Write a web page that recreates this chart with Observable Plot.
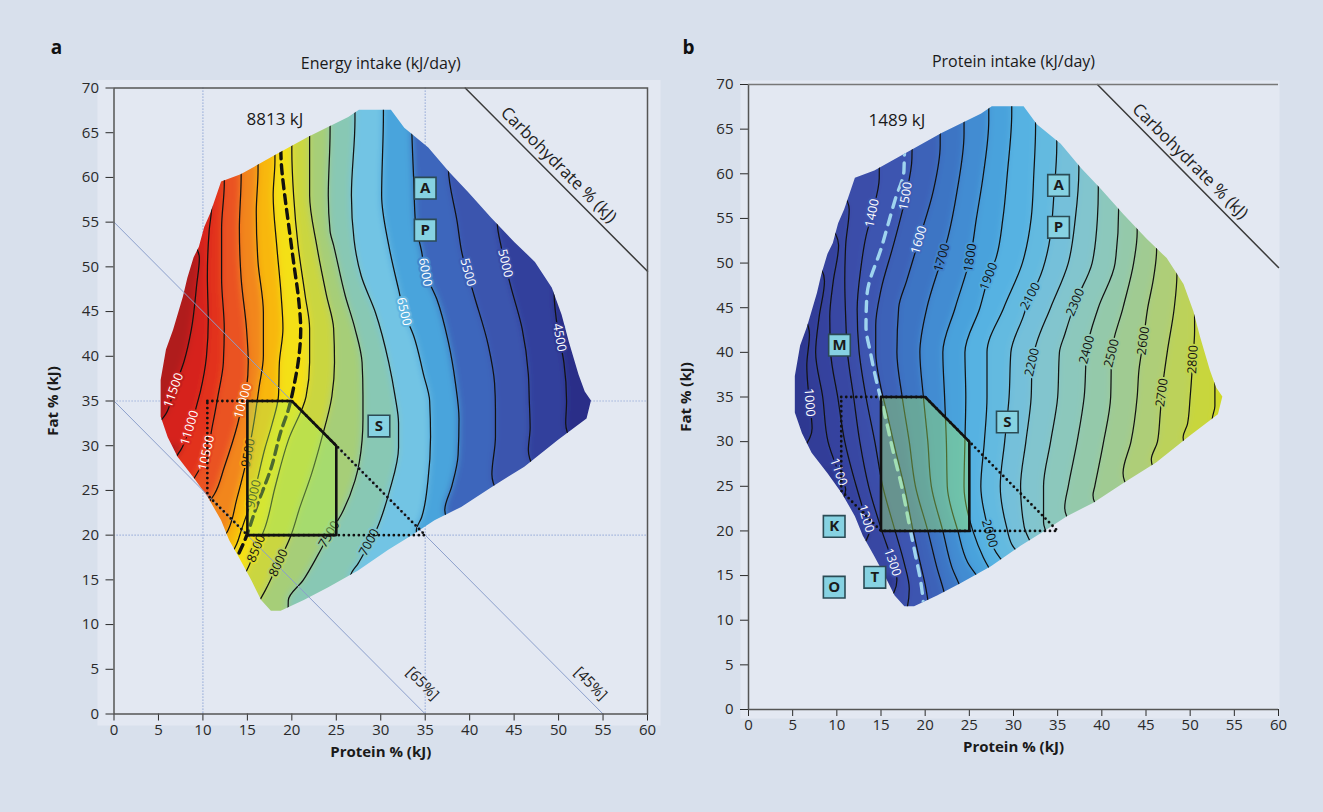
<!DOCTYPE html>
<html>
<head>
<meta charset="utf-8">
<script src="https://cdn.jsdelivr.net/npm/d3@7"></script>
<script src="https://cdn.jsdelivr.net/npm/@observablehq/plot@0.6"></script>
<style>
html,body{margin:0;padding:0;background:#d8e0ec;}
#chart{position:relative;width:1323px;height:812px;overflow:hidden;background:#d8e0ec;}
#chart svg{position:absolute;top:0;}
</style>
</head>
<body>
<div id="chart"></div>
<script>
// ---------------- data ----------------
const proteinTicks = [0,5,10,15,20,25,30,35,40,45,50,55,60];
const fatTicks = [0,5,10,15,20,25,30,35,40,45,50,55,60,65,70];

// outline of the explored diet region (protein %, fat %)
const regionOutline = [
 [27.6,67.5],[31.2,67.5],[32.7,65.5],[35.4,63.3],[37.7,60.6],[39.9,58.3],[42.5,55.4],[45.1,52.7],[47.4,50.5],[49.3,47.6],[50.4,44.6],[51.2,41.6],[52.3,37.9],[53.0,36.0],[53.7,35.0],
 [53.2,33.0],[50.0,30.6],[46.2,27.6],[42.5,25.3],[39.1,23.1],[36.1,21.6],[33.5,19.9],[30.9,18.3],[27.5,16.0],[24.1,14.1],[21.4,12.7],[18.8,11.5],[17.7,11.5],
 [16.6,12.7],[15.5,14.9],[14.3,17.1],[13.0,19.4],[12.1,21.6],[10.6,24.2],[9.0,26.4],[7.2,28.7],[6.1,30.9],[5.3,33.2],[5.3,37.3],[5.9,40.7],[6.7,42.9],[7.8,46.6],[8.3,48.7],[9.0,51.0],[9.6,52.2],[10.2,54.4],[10.9,56.0],[12.1,59.5],[14.3,60.3],[17.9,62.3],[21.9,64.5],[26.4,66.7]
];
const targetZone = [[15,35],[20,35],[25,30],[25,20],[15,20],[15,35]];
const dietBounds = [[10.5,35],[20,35],[35,20],[15,20],[10.5,24.5],[10.5,35]];
const gridX = [10, 35];
const gridY = [20, 35];
const carbLines = [65, 45];
const carbLabelPos = [[34.7,3.4],[53.6,3.4]];
const carbAxis = [[39.5,70],[60,49.5]];
const carbAxisLabel = [50, 61.4];

// Panel a: energy intake contours (kJ/day), left to right
const energyLevels = [11500,11000,10500,10000,9500,9000,8500,8000,7500,7000,6500,6000,5500,5000,4500];
const energyLines = [
 [[0,58],[9.6,51],[9.3,48],[8.7,43],[7.9,39.5],[6.7,36.2],[5.8,33.5],[2,30]],
 [[0,64],[11.0,57],[10.7,54],[10.5,49],[10.6,44],[10.4,40],[9.7,36],[8.5,32],[7.5,29.5],[3,25]],
 [[12.5,72],[12.4,59.1],[12.1,54.3],[12.1,48.7],[12.4,43.1],[12.3,39.3],[11.7,35.6],[11.1,32.4],[10.4,29.2],[9.1,26.5],[5,22]],
 [[14.3,72],[14.3,60.1],[14.1,54.3],[14.3,48.7],[14.9,43.1],[15.1,39.3],[14.9,36.4],[14.5,35],[13.9,32.4],[12.4,27.6],[11.3,24.6],[7,20]],
 [[16.2,72],[16.2,60.8],[16.0,56.1],[16.2,50.5],[16.8,44.9],[16.8,40.1],[16.3,36.4],[15.8,33],[15.1,29.2],[13.8,24],[12.8,20.5],[9,16]],
 [[18.1,72],[18.1,61.9],[17.9,58],[18.3,52.4],[18.8,46.8],[19.0,43.1],[18.6,39.3],[18.5,35.6],[17.8,32.5],[17.0,29.8],[15.7,24.6],[14.3,20.5],[13.8,19],[10,14],[4,8]],
 [[20.0,72],[20.0,62.9],[20.2,58],[20.7,52.4],[21.5,46.8],[22.0,43.1],[22.0,39.3],[21.6,35.5],[19.6,30.6],[18.1,25.3],[17.0,20.9],[16.0,18.5],[15.1,16.4],[12,11],[6,5]],
 [[22.0,72],[22.0,64],[22.0,58],[22.8,52.4],[23.9,46.8],[24.7,43.1],[24.8,39.3],[24.5,35.5],[23.3,30.6],[22.2,26.8],[20.9,23.1],[19.8,19.7],[18.5,16.9],[17.0,13.8],[14,9],[10,4]],
 [[24.3,72],[24.3,65.1],[24.1,58],[24.3,54],[24.7,52.4],[26.0,46.8],[27.1,43.1],[27.9,39.3],[28.0,35.6],[28.0,33],[27.9,30.6],[27.1,26.1],[25.6,22.4],[24.2,20.1],[23.0,17.9],[21.3,15],[19.6,12.7],[19.5,4]],
 [[27.1,72],[27.1,66.4],[26.7,58],[27.0,53],[27.8,49],[29.4,44.9],[30.9,39.3],[31.6,35.6],[32.0,32.5],[32.0,29.8],[31.0,25],[29.6,20.8],[27.5,16.9],[26.6,15.4],[30,10],[34,4]],
 [[30.3,72],[30.3,67],[30.1,58],[30.9,52.4],[32.0,47.5],[32.6,45],[33.7,42.3],[34.8,38],[35.5,35],[35.6,31],[35.3,26],[34.6,22],[34.0,20.5],[38,15],[44,8]],
 [[33.4,72],[33.5,65],[33.7,59.9],[33.9,55],[34.6,51.7],[35.0,49.4],[36.3,46.4],[37.6,41.6],[38.4,37],[38.8,33],[38.7,29],[38.0,25.5],[37.2,22.8],[42,17],[48,10]],
 [[37.5,72],[37.6,61],[38.6,55],[39.1,51.7],[40.5,46.8],[42.1,41.2],[42.8,37],[42.9,34],[42.9,31],[42.5,26.8],[45,22],[52,15]],
 [[43.0,72],[43.1,55],[43.6,52],[44.6,47.9],[45.9,43.1],[46.6,38],[46.7,35.2],[46.8,32],[46.6,29.5],[49,25],[55,19]],
 [[49.4,72],[49.5,47],[49.9,43],[50.6,39.3],[50.9,35],[50.8,32.5],[54,27],[58,22]]
];
const energyTarget = [[18.7,66],[18.8,61.9],[19.2,58],[19.6,55],[20.2,50.5],[20.8,46],[21.0,43],[20.8,40],[20.3,37],[19.6,34],[18.8,31.7],[17.7,27.6],[16.0,23.1],[14.7,19.4],[13.3,16.5]];
const energyLabels = [
 [11500,6.7,36.2],[11000,8.5,32.0],[10500,10.4,29.2],[10000,14.5,35.0],[9500,15.1,29.2],[9000,15.7,24.6],
 [8500,16.0,18.5],[8000,18.5,16.9],[7500,24.2,20.1],[7000,28.7,19.2],[6500,32.6,45.0],[6000,35.0,49.4],
 [5500,39.8,49.4],[5000,44.0,50.4],[4500,50.1,42.1]
];
const energyRef = [{text: "8813 kJ", x: 18.1, y: 66.5}];
const energyMarkers = [["A",35.0,58.8],["P",35.0,54.1],["S",29.8,32.2]];

// Panel b: protein intake contours (kJ/day), left to right
const proteinLevels = [1000,1100,1200,1300,1400,1500,1600,1700,1800,1900,2000,2100,2200,2300,2400,2500,2600,2700,2800,2900];
const proteinLines = [
 [[0,50],[6.9,42],[6.6,38.5],[6.9,34.4],[7.2,31.5],[4,27]],
 [[0,56],[8.6,48],[8.0,44],[7.6,40],[8.4,35],[9.0,30],[10.2,26.6],[11.0,24.6],[7,20]],
 [[0,60],[10.2,52],[9.6,48],[9.2,44],[9.3,40],[10.1,35],[10.9,30],[12.2,25],[13.3,21.4],[13.7,20.2],[9,15]],
 [[0,64],[11.4,56],[11.0,52],[10.9,48],[11.0,44],[11.2,40],[11.9,35],[12.6,30],[13.6,25],[15.1,20],[16.3,16.5],[16.8,14.5],[13,9]],
 [[14.9,72],[14.8,59.5],[14.0,55.6],[13.3,53],[12.7,49.3],[12.3,44.8],[12.5,40.3],[13.3,35],[14.3,30],[15.2,25],[16.6,20],[17.6,16.5],[18.2,13.5],[17,8]],
 [[18.6,72],[18.5,61.7],[17.8,57.5],[16.4,52],[15.0,47],[14.4,43],[14.4,40],[15.0,36],[15.6,33.5],[16.6,29.2],[17.7,24.7],[18.6,20.2],[19.3,17],[20.0,14],[21,6]],
 [[21.7,72],[21.7,63.2],[20.9,58],[19.3,52.6],[17.9,48],[17.0,45],[16.8,40],[17.4,35],[18.2,30],[18.9,25],[20.3,20],[21.3,16],[22.3,12.5],[23,6]],
 [[24.4,72],[24.4,64.5],[23.6,58],[22.6,53],[21.9,50.6],[20.2,45],[19.4,40],[19.8,35],[20.3,30],[20.7,25],[22.0,20],[23.0,16],[24.2,13],[25,6]],
 [[27.2,72],[27.2,66],[26.6,60],[25.8,55],[25.1,50.6],[23.4,45],[22.0,40],[22.2,35],[22.4,30],[22.5,25],[23.7,20],[24.8,16.5],[26.5,14],[28,8]],
 [[29.8,72],[29.8,66.8],[29.3,60],[28.8,55],[28.0,50.5],[27.2,48.5],[26.2,45],[24.5,40],[24.6,35],[24.5,30],[24.4,25],[25.4,20],[26.6,17],[29,13],[32,8]],
 [[32.5,72],[32.5,65.3],[32.3,60],[32.0,55],[31.0,50],[28.9,45],[27.0,40],[27.0,35],[26.7,30],[26.3,25],[27.2,20],[27.8,18],[31,14],[34,9]],
 [[34.9,72],[34.9,63.2],[34.6,58],[34.0,52],[32.8,48],[31.9,46.3],[31.1,44],[29.7,40],[29.5,35],[29.0,30],[28.5,25],[29.2,20.5],[29.8,18.5],[33,15],[36,10]],
 [[37.4,72],[37.4,60.4],[37.0,55],[36.2,50],[34.2,45],[32.6,41],[32.1,38.9],[32.0,35],[31.4,30],[30.8,25],[31.2,20.5],[31.8,19],[35,15],[38,10]],
 [[39.6,72],[39.6,58.2],[39.5,55],[38.9,50],[37.0,45.6],[35.8,42],[35.2,40],[35.0,35],[34.2,30],[33.4,25],[33.4,21],[37,16],[40,11]],
 [[41.9,72],[41.9,56],[41.5,50],[39.6,45],[38.3,40.3],[38.0,35],[37.2,30],[36.2,25],[35.8,22.6],[40,17],[44,12]],
 [[44.0,72],[44.0,53.4],[43.6,50],[42.4,45],[41.1,39.9],[41.0,35],[40.2,30],[39.2,25],[39.0,24],[43,19],[47,14]],
 [[46.2,72],[46.2,51.5],[45.8,48],[45.2,45],[44.7,41.3],[44.2,38],[44.0,35],[43.3,30],[42.4,26.5],[46,21],[50,16]],
 [[48.5,72],[48.5,48.7],[48.2,45],[47.4,40],[46.8,35.5],[46.6,33],[46.3,30],[45.6,28],[49,23],[53,18]],
 [[50.5,72],[50.5,42.4],[50.3,39.2],[50.0,35],[49.7,32],[49.2,30.5],[52,26],[56,21]],
 [[52.8,72],[52.8,36.3],[52.8,34],[52.5,32.5],[55,30],[58,26]]
];
const proteinTarget = [[17.7,66],[17.6,60.4],[16.6,57.1],[15.1,51.9],[13.4,46.3],[13.3,42.9],[13.8,40],[14.6,36.3],[15.3,33.6],[16.3,29.2],[17.4,24.7],[18.3,20.2],[18.9,17.3],[19.5,14.3],[19.9,11]];
const proteinLabels = [
 [1000,6.9,34.4],[1100,10.2,26.6],[1200,13.3,21.4],[1300,16.3,16.5],[1400,14.0,55.6],[1500,17.8,57.5],
 [1600,19.3,52.6],[1700,21.9,50.6],[1800,25.1,50.6],[1900,27.2,48.5],[2000,27.3,19.7],[2100,31.9,46.3],
 [2200,32.1,38.9],[2300,37.0,45.6],[2400,38.3,40.3],[2500,41.1,39.9],[2600,44.7,41.3],[2700,46.8,35.5],[2800,50.3,39.2]
];
const proteinRef = [{text: "1489 kJ", x: 16.8, y: 66.0}];
const proteinMarkers = [["A",35.1,58.7],["P",35.1,54.0],["S",29.3,32.2],["M",10.3,40.8],["K",9.7,20.5],["T",14.3,14.8],["O",9.7,13.7]];

// ---------------- palettes (style) ----------------
const energyStops = [4000,4250,4750,5250,5750,6000,6250,6750,7250,7750,8250,8750,9250,9750,10250,10750,11250,11750,12000];
const energyColors = ["#28297e","#2c2f88","#33409c","#3a54ae","#3d66bc","#4286cc","#4aa4dc","#72c4e4","#88c8b4","#a6ce78","#cad640","#f4e012","#f8b70a","#f2861c","#ea5322","#e2301f","#d6201e","#b01a1a","#9a1616"];
const proteinStops = [900,950,1050,1150,1250,1350,1450,1550,1650,1750,1850,1950,2050,2150,2250,2350,2450,2550,2650,2750,2850,2950,3000];
const proteinColors = ["#2c3489","#2f3891","#323d98","#34429e","#3747a3","#3a4ea9","#3c55b0","#3d62b8","#3e74c4","#428cd2","#4aa2dc","#56b2e2","#64bae0","#74c0da","#82c5ce","#8cc8bc","#94c9aa","#a0cb92","#aece78","#bcd25a","#c8d63c","#d0d928","#d4da20"];

const FONT = "'Open Sans','Noto Sans','DejaVu Sans',sans-serif";
const H = 800;
const xMin = proteinTicks[0], xMax = proteinTicks[proteinTicks.length - 1];
const yMin = fatTicks[0], yMax = fatTicks[fatTicks.length - 1];
const P = d => d[0], Q = d => d[1];

function buildPanel(cfg) {
  const fw = cfg.width - cfg.ml - cfg.mr, fh = H - cfg.mt - cfg.mb;
  const kx = fw / (xMax - xMin), ky = fh / (yMax - yMin);

  const bandRows = [
    {x: xMin, y: yMin - 6, edge: xMax, band: cfg.baseBand, z: "base"},
    {x: xMin, y: yMax + 6, edge: xMax, band: cfg.baseBand, z: "base"}
  ];
  const contourRows = [];
  cfg.levels.forEach((L, i) => {
    const pts = cfg.lines[i].slice().sort((a, b) => a[1] - b[1]);
    pts.forEach(([x, y]) => {
      bandRows.push({x, y, edge: xMax, band: L + cfg.bandOffset, z: L});
      contourRows.push({x, y, level: L});
    });
  });
  const target = cfg.target.slice().sort((a, b) => a[1] - b[1]);

  const labelRows = cfg.labels.map(([L, x, y]) => {
    const pts = cfg.lines[cfg.levels.indexOf(L)];
    let a = pts[0], b = pts[1];
    for (let i = 0; i < pts.length - 1; i++) {
      if (pts[i][1] >= y && pts[i + 1][1] <= y) { a = pts[i]; b = pts[i + 1]; break; }
    }
    const dxp = (b[0] - a[0]) * kx, dyp = (a[1] - b[1]) * ky;
    let ang = Math.atan2(dyp, dxp) * 180 / Math.PI;
    if (ang > 90) ang -= 180;
    return {level: L, x, y, angle: ang, white: cfg.whiteText(L)};
  });

  const marks = [
    Plot.frame({fill: "#e3e8f2", stroke: null, insetLeft: cfg.bg[0], insetTop: cfg.bg[1], insetRight: cfg.bg[2], insetBottom: cfg.bg[3]}),
    ...(cfg.grid ? [
      Plot.ruleX(gridX, {stroke: "#8fa5d6", strokeWidth: 1.2, strokeDasharray: "1.2,1.8"}),
      Plot.ruleY(gridY, {stroke: "#8fa5d6", strokeWidth: 1.2, strokeDasharray: "1.2,1.8"})
    ] : []),
    Plot.areaX(bandRows, {y: "y", x1: "x", x2: "edge", z: "z", fill: "band", curve: "monotone-y", ariaDescription: "band"}),
    Plot.line(contourRows, {x: "x", y: "y", z: "level", stroke: "#121212", strokeWidth: 1.25, curve: "monotone-y", ariaDescription: "contour"}),
    Plot.line(target, {x: P, y: Q, stroke: cfg.targetColor, strokeWidth: 3.4, strokeDasharray: cfg.targetDash, curve: "monotone-y", ariaDescription: "dashed"}),
    Plot.text(labelRows.filter(d => d.white), {x: "x", y: "y", text: d => String(d.level), rotate: "angle", fill: "white", stroke: "level", strokeWidth: 4, fontSize: 12.5}),
    Plot.text(labelRows.filter(d => !d.white), {x: "x", y: "y", text: d => String(d.level), rotate: "angle", fill: "#111", stroke: "level", strokeWidth: 4, fontSize: 12.5}),
    ...(cfg.grid ? [
      Plot.line(carbLines.flatMap(c => [{x: xMin, y: 100 - c, c}, {x: 100 - c, y: yMin, c}]), {x: "x", y: "y", z: "c", stroke: "#8c9fcb", strokeWidth: 1}),
      Plot.text(carbLines.map((c, i) => ({c, x: carbLabelPos[i][0], y: carbLabelPos[i][1]})), {x: "x", y: "y", text: d => `[${d.c}%]`, rotate: 45, fontSize: 15, fill: "#222"})
    ] : []),
    Plot.line(targetZone, {x: P, y: Q, fill: "#a8f060", fillOpacity: 0.4, stroke: "none"}),
    Plot.line(dietBounds, {x: P, y: Q, stroke: "#111", strokeWidth: 2.8, strokeDasharray: "0,5", strokeLinecap: "round"}),
    Plot.line(targetZone, {x: P, y: Q, stroke: "#111", strokeWidth: 2.6, strokeLinejoin: "miter"}),
    Plot.line(carbAxis, {x: P, y: Q, stroke: "#3a3a3a", strokeWidth: 1.5}),
    Plot.text([carbAxisLabel], {x: P, y: Q, text: () => "Carbohydrate % (kJ)", rotate: 45, fontSize: 17, fill: "#222"}),
    Plot.text(cfg.ref, {x: "x", y: "y", text: "text", fontSize: 17, fill: "#1a1a1a"}),
    Plot.dot(cfg.markers, {x: d => d[1], y: d => d[2], symbol: "square", r: 12.2, fill: "#86d2e2", stroke: "#2b4b55", strokeWidth: 1.6}),
    Plot.text(cfg.markers, {x: d => d[1], y: d => d[2], text: d => d[0], fontSize: 15, fontWeight: "bold", fill: "#1b1b1b"}),
    Plot.axisX(proteinTicks, {tickSize: 7, tickPadding: 3, label: null, fontSize: 15}),
    Plot.axisY(fatTicks, {tickSize: 8, tickPadding: 7, label: null, fontSize: 15}),
    ...(cfg.fullFrame ? [Plot.frame({stroke: "#555", strokeWidth: 1.5})] : [
      Plot.ruleX([xMin], {stroke: "#555", strokeWidth: 1.5}),
      Plot.ruleY([yMin], {stroke: "#555", strokeWidth: 1.5}),
      Plot.ruleY([yMax], {stroke: "#777", strokeWidth: 1.5})
    ]),
    Plot.text([cfg.title], {frameAnchor: "top", dy: cfg.titleDy, fontSize: 16, fill: "#1a1a1a", lineAnchor: "middle", textAnchor: "middle"}),
    Plot.text([cfg.letter], {frameAnchor: "top-left", dx: cfg.letterPos[0], dy: cfg.letterPos[1], fontSize: 19, fontWeight: "bold", fill: "#111", lineAnchor: "middle", textAnchor: "middle"}),
    Plot.text(["Protein % (kJ)"], {frameAnchor: "bottom", dy: cfg.xLabelDy, fontSize: 15, fontWeight: "bold", fill: "#1a1a1a", lineAnchor: "middle", textAnchor: "middle"}),
    Plot.text(["Fat % (kJ)"], {frameAnchor: "left", dx: cfg.yLabelDx, rotate: -90, fontSize: 15, fontWeight: "bold", fill: "#1a1a1a", lineAnchor: "middle", textAnchor: "middle"})
  ];

  const svg = Plot.plot({
    width: cfg.width, height: H,
    marginLeft: cfg.ml, marginRight: cfg.mr, marginTop: cfg.mt, marginBottom: cfg.mb,
    x: {domain: [xMin, xMax]},
    y: {domain: [yMin, yMax]},
    color: {type: "linear", domain: cfg.stops, range: cfg.colors, interpolate: "rgb"},
    style: {fontFamily: FONT, fontSize: "15px", color: "#2a2a2a", background: "transparent", overflow: "visible"},
    marks
  });

  // clip colour field and contours to the explored region, soften band edges
  const ns = "http://www.w3.org/2000/svg";
  const xs = svg.scale("x"), ys = svg.scale("y");
  const defs = document.createElementNS(ns, "defs");
  const cp = document.createElementNS(ns, "clipPath");
  cp.setAttribute("id", cfg.id + "-clip");
  const path = document.createElementNS(ns, "path");
  path.setAttribute("d", "M" + regionOutline.map(([a, b]) => `${xs.apply(a)},${ys.apply(b)}`).join("L") + "Z");
  cp.appendChild(path);
  defs.appendChild(cp);
  const filt = document.createElementNS(ns, "filter");
  filt.setAttribute("id", cfg.id + "-blur");
  filt.setAttribute("filterUnits", "userSpaceOnUse");
  filt.setAttribute("x", 0); filt.setAttribute("y", 0);
  filt.setAttribute("width", cfg.width); filt.setAttribute("height", H);
  const blur = document.createElementNS(ns, "feGaussianBlur");
  blur.setAttribute("stdDeviation", "3.8");
  filt.appendChild(blur);
  defs.appendChild(filt);
  svg.insertBefore(defs, svg.firstChild);
  const find = name => svg.querySelector(`g[aria-description="${name}"]`);
  const band = find("band");
  if (band) {
    const wrap = document.createElementNS(ns, "g");
    wrap.setAttribute("clip-path", `url(#${cfg.id}-clip)`);
    band.parentNode.insertBefore(wrap, band);
    const bg = document.createElementNS(ns, "g");
    bg.setAttribute("filter", `url(#${cfg.id}-blur)`);
    wrap.appendChild(bg);
    bg.appendChild(band);
    for (const lbl of ["contour", "dashed"]) {
      const g = find(lbl);
      if (g) wrap.appendChild(g);
    }
  }
  svg.style.left = cfg.left + "px";
  return svg;
}

const chart = document.getElementById("chart");
chart.appendChild(buildPanel({
  id: "pa", left: 0, width: 661, ml: 113.5, mr: 14, mt: 87.5, mb: 86.5,
  bg: [-16.5, -8, -13, -11.5], grid: true, fullFrame: true,
  levels: energyLevels, lines: energyLines, target: energyTarget, labels: energyLabels,
  ref: energyRef, markers: energyMarkers,
  baseBand: 11750, bandOffset: -250,
  stops: energyStops, colors: energyColors,
  whiteText: L => L >= 10000 || L <= 6500,
  targetColor: "#111", targetDash: "9,6",
  title: "Energy intake (kJ/day)", titleDy: -24.5, letter: "a", letterPos: [-57.5, -40.5],
  xLabelDy: 38.5, yLabelDx: -61
}));
chart.appendChild(buildPanel({
  id: "pb", left: 661, width: 662, ml: 87, mr: 45, mt: 84, mb: 91,
  bg: [-8, -4, -1, -9], grid: false, fullFrame: false,
  levels: proteinLevels, lines: proteinLines, target: proteinTarget, labels: proteinLabels,
  ref: proteinRef, markers: proteinMarkers,
  baseBand: 950, bandOffset: 50,
  stops: proteinStops, colors: proteinColors,
  whiteText: L => L <= 1600,
  targetColor: "#9fd4ef", targetDash: "10,8",
  title: "Protein intake (kJ/day)", titleDy: -23, letter: "b", letterPos: [-60, -37],
  xLabelDy: 38, yLabelDx: -62
}));
</script>
</body>
</html>
